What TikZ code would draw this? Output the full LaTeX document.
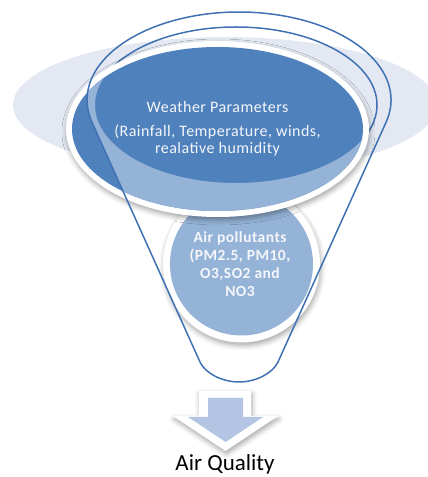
\documentclass[tikz,border=0pt]{standalone}
\usepackage{fontspec}
\setmainfont{Carlito}
\usetikzlibrary{shadows.blur}

\definecolor{bgpale}{HTML}{E3E8F2}
\definecolor{deepblue}{HTML}{4F81BD}
\definecolor{softblue}{HTML}{95B3D7}
\definecolor{rimline}{HTML}{3F71B3}
\definecolor{arrowfill}{HTML}{B3C5E2}
\definecolor{labelwhite}{HTML}{F4F6FA}

% outline of the funnel: top rim arc, two sides, rounded tip
\def\funnelshape{(386.1,354.8) arc[start angle=-14.6, end angle=194.6, x radius=152, y radius=88]
  -- (200,115) .. controls (205,104) and (222,95) .. (239,95)
  .. controls (256,95) and (273,104) .. (278,115) -- cycle}

\tikzset{
  funnelline/.style={draw=rimline, line width=1.5pt},
  softshadow/.style={blur shadow={shadow xshift=1pt, shadow yshift=-3pt,
      shadow blur radius=5pt, shadow opacity=35}},
  whitelabel/.style={text=labelwhite, anchor=base, inner sep=0pt,
      font=\fontsize{16}{18}\selectfont\addfontfeatures{LetterSpace=3}},
  boldlabel/.style={text=labelwhite, anchor=base, inner sep=0pt,
      font=\fontsize{15.5}{18}\selectfont\bfseries\addfontfeatures{LetterSpace=3}},
}

\begin{document}
\begin{tikzpicture}[x=1pt, y=1pt]
\useasboundingbox (0,0) rectangle (428,477);
\clip (0,0) rectangle (428,477);

% pale backdrop ellipse
\fill[bgpale] (225,372) ellipse[x radius=212, y radius=68];

% inner rim of the funnel opening
\draw[funnelline] (236,372) ellipse[x radius=141, y radius=78];

% lower circle: air pollutants
\fill[white, softshadow] (241.5,213) circle[radius=78.5];
\fill[softblue] (241.5,213) circle[radius=71.5];

% upper ellipse: weather parameters
\fill[white, softshadow] (217.5,348) ellipse[x radius=151.5, y radius=88];
\fill[deepblue] (217.5,348) ellipse[x radius=145.5, y radius=82];

% translucent funnel body lightening the ellipse below the opening
\begin{scope}
  \clip (217.5,348) ellipse[x radius=145.5, y radius=82];
  \clip \funnelshape;
  \fill[softblue, even odd rule] (0,0) rectangle (428,477)
    (236,372) ellipse[x radius=141, y radius=78];
\end{scope}

% funnel outline
\draw[funnelline, line join=round] \funnelshape;

% downward arrow with white border
\fill[white, softshadow] (199,86) -- (251,86) -- (251,61) -- (278,61) -- (225.5,26)
  -- (173,61) -- (199,61) -- cycle;
\fill[arrowfill] (208,79) -- (243,79) -- (243,60) -- (263,60) -- (225.5,35)
  -- (188,60) -- (208,60) -- cycle;

% labels
\node[whitelabel] (w1) at (217.5,364) {Weather Parameters};
\node[whitelabel] (w2) at (217.5,340) {(Rainfall, Temperature, winds,};
\node[whitelabel] (w3) at (217.5,323) {realative humidity};

\node[boldlabel] (p1) at (240,234) {Air pollutants};
\node[boldlabel] (p2) at (240,216) {(PM2.5, PM10,};
\node[boldlabel] (p3) at (240,198) {O3,SO2 and};
\node[boldlabel] (p4) at (240,180) {NO3};

\node[anchor=base, inner sep=0pt, font=\fontsize{23}{26}\selectfont] (aq) at (225,6.5) {Air Quality};
\end{tikzpicture}
\end{document}
